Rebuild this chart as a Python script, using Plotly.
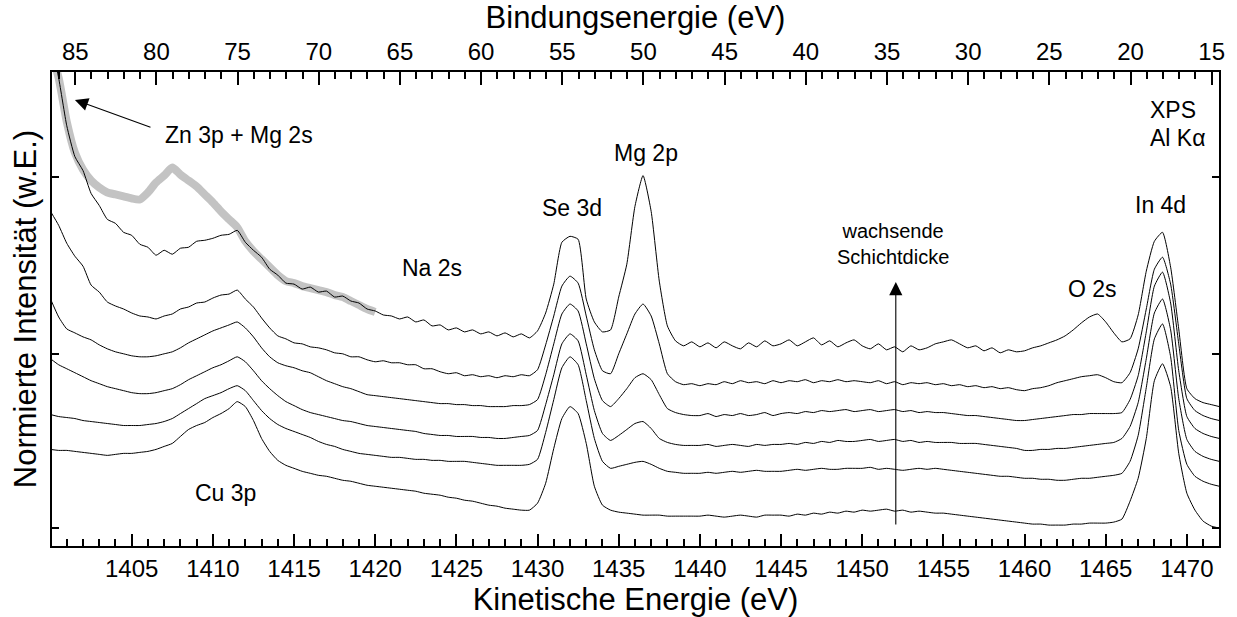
import plotly.graph_objects as go

# Kinetic energy grid (eV)
ke = [1400.0, 1400.5, 1401.0, 1401.5, 1402.0, 1402.5, 1403.0, 1403.5, 1404.0, 1404.5,
      1405.0, 1405.5, 1406.0, 1406.5, 1407.0, 1407.5, 1408.0, 1408.5, 1409.0, 1409.5,
      1410.0, 1410.5, 1411.0, 1411.5, 1412.0, 1412.5, 1413.0, 1413.5, 1414.0, 1414.5,
      1415.0, 1415.5, 1416.0, 1416.5, 1417.0, 1417.5, 1418.0, 1418.5, 1419.0, 1419.5,
      1420.0, 1420.5, 1421.0, 1421.5, 1422.0, 1422.5, 1423.0, 1423.5, 1424.0, 1424.5,
      1425.0, 1425.5, 1426.0, 1426.5, 1427.0, 1427.5, 1428.0, 1428.5, 1429.0, 1429.5,
      1430.0, 1430.5, 1431.0, 1431.5, 1432.0, 1432.5, 1433.0, 1433.5, 1434.0, 1434.5,
      1435.0, 1435.5, 1436.0, 1436.5, 1437.0, 1437.5, 1438.0, 1438.5, 1439.0, 1439.5,
      1440.0, 1440.5, 1441.0, 1441.5, 1442.0, 1442.5, 1443.0, 1443.5, 1444.0, 1444.5,
      1445.0, 1445.5, 1446.0, 1446.5, 1447.0, 1447.5, 1448.0, 1448.5, 1449.0, 1449.5,
      1450.0, 1450.5, 1451.0, 1451.5, 1452.0, 1452.5, 1453.0, 1453.5, 1454.0, 1454.5,
      1455.0, 1455.5, 1456.0, 1456.5, 1457.0, 1457.5, 1458.0, 1458.5, 1459.0, 1459.5,
      1460.0, 1460.5, 1461.0, 1461.5, 1462.0, 1462.5, 1463.0, 1463.5, 1464.0, 1464.5,
      1465.0, 1465.5, 1466.0, 1466.5, 1467.0, 1467.5, 1468.0, 1468.5, 1469.0, 1469.5,
      1470.0, 1470.5, 1471.0, 1471.5, 1472.0]

# Normalised intensities (arbitrary units, curves already offset)
spec_a = [508, 470, 422, 391, 377, 354, 342, 328, 324, 315,
          312, 303, 300, 292, 297, 293, 299, 300, 306, 307,
          309, 312, 313, 317, 305, 297, 290, 278, 272, 264,
          263, 258, 260, 255, 256, 250, 251, 246, 244, 238,
          236, 232, 231, 228, 230, 225, 227, 221, 222, 217,
          219, 215, 217, 213, 215, 211, 214, 210, 213, 209,
          216, 234, 263, 305, 311, 308, 248, 225, 215, 217,
          250, 283, 341, 372, 336, 266, 221, 206, 201, 205,
          200, 204, 199, 205, 201, 198, 204, 200, 206, 201,
          203, 207, 201, 205, 209, 202, 206, 200, 204, 207,
          201, 198, 203, 197, 200, 195, 201, 197, 199, 203,
          205, 207, 203, 199, 201, 196, 199, 194, 197, 195,
          196, 199, 201, 204, 207, 211, 217, 224, 230, 233,
          225, 214, 205, 208, 232, 276, 306, 315, 280, 218,
          158, 148, 144, 142, 140]

spec_b = [336, 322, 304, 291, 281, 262, 255, 245, 241, 238,
          234, 231, 230, 228, 231, 233, 238, 240, 244, 245,
          249, 252, 253, 257, 248, 240, 229, 219, 211, 208,
          204, 203, 200, 199, 197, 194, 193, 190, 190, 187,
          185, 186, 184, 184, 182, 182, 178, 178, 175, 173,
          174, 171, 172, 170, 171, 169, 171, 170, 172, 171,
          177, 202, 231, 261, 271, 264, 231, 197, 176, 173,
          193, 213, 233, 243, 231, 203, 173, 165, 162, 163,
          161, 163, 162, 165, 163, 166, 164, 165, 163, 166,
          164, 166, 165, 167, 164, 166, 165, 167, 165, 166,
          165, 164, 166, 163, 165, 162, 164, 163, 164, 162,
          163, 161, 162, 160, 161, 159, 160, 158, 159, 157,
          156, 158, 159, 161, 164, 166, 168, 170, 171, 172,
          169, 165, 164, 174, 198, 238, 278, 290, 263, 203,
          148, 136, 131, 128, 126]

spec_c = [248, 230, 218, 214, 210, 207, 202, 198, 195, 193,
          191, 190, 190, 191, 193, 195, 199, 204, 208, 212,
          216, 219, 222, 225, 219, 210, 199, 190, 184, 181,
          179, 176, 174, 170, 166, 163, 160, 158, 155, 152,
          151, 150, 149, 148, 147, 146, 145, 144, 143, 143,
          142, 142, 141, 141, 140, 140, 140, 141, 141, 142,
          147, 172, 203, 233, 243, 236, 203, 168, 146, 140,
          148, 158, 169, 173, 167, 152, 138, 134, 132, 131,
          131, 133, 130, 132, 131, 133, 131, 132, 134, 131,
          133, 134, 133, 135, 134, 136, 135, 136, 137, 135,
          136, 137, 135, 136, 137, 135, 136, 134, 135, 134,
          134, 133, 132, 131, 131, 130, 129, 128, 127, 126,
          126, 127, 128, 129, 130, 131, 132, 132, 133, 133,
          133, 133, 134, 147, 171, 215, 261, 275, 244, 176,
          130, 118, 113, 110, 108]

spec_d = [188, 182, 178, 174, 170, 166, 163, 160, 158, 156,
          154, 153, 153, 154, 156, 158, 162, 167, 171, 175,
          179, 182, 186, 190, 185, 176, 166, 158, 151, 145,
          141, 137, 134, 132, 130, 128, 126, 125, 123, 121,
          120, 119, 118, 117, 116, 115, 113, 112, 111, 111,
          110, 110, 110, 109, 109, 108, 108, 109, 110, 111,
          116, 142, 172, 203, 213, 206, 172, 136, 113, 106,
          111, 117, 123, 125, 118, 108, 104, 102, 101, 101,
          101, 102, 100, 101, 102, 101, 100, 102, 101, 102,
          102, 103, 102, 104, 103, 105, 104, 106, 105, 105,
          106, 107, 105, 106, 107, 105, 106, 104, 105, 104,
          104, 104, 103, 103, 103, 102, 101, 100, 99, 98,
          96, 96, 97, 97, 98, 98, 99, 100, 101, 102,
          103, 104, 108, 120, 144, 188, 234, 248, 217, 148,
          107, 95, 90, 87, 85]

spec_e = [132, 130, 129, 128, 126, 125, 124, 123, 122, 121,
          121, 121, 122, 123, 125, 128, 133, 138, 143, 148,
          151, 154, 158, 161, 156, 146, 136, 128, 122, 118,
          115, 112, 109, 105, 102, 100, 97, 95, 93, 92,
          91, 90, 89, 89, 88, 87, 87, 86, 86, 85,
          85, 85, 84, 83, 82, 81, 81, 81, 81, 82,
          87, 114, 147, 179, 190, 182, 146, 108, 85, 78,
          80, 82, 84, 85, 82, 78, 75, 74, 73, 73,
          73, 74, 73, 74, 75, 74, 75, 76, 75, 75,
          75, 76, 77, 76, 77, 78, 77, 77, 78, 78,
          78, 79, 77, 78, 77, 76, 77, 78, 77, 78,
          77, 76, 75, 74, 73, 72, 71, 70, 70, 69,
          68, 68, 67, 67, 66, 66, 67, 68, 68, 69,
          70, 71, 73, 85, 111, 159, 208, 223, 190, 116,
          82, 70, 65, 62, 60]

spec_f = [97, 96, 96, 95, 94, 93, 92, 91, 92, 93,
          93, 94, 95, 97, 100, 103, 110, 117, 121, 124,
          129, 133, 138, 145, 140, 126, 108, 95, 86, 81,
          78, 75, 73, 71, 70, 68, 66, 65, 63, 61,
          60, 59, 58, 57, 56, 55, 53, 52, 51, 49,
          48, 46, 45, 43, 41, 40, 38, 37, 36, 36,
          43, 63, 98, 128, 140, 133, 103, 60, 41, 36,
          34, 33, 32, 31, 31, 31, 30, 30, 30, 30,
          30, 31, 30, 29, 30, 31, 30, 29, 31, 31,
          31, 30, 32, 31, 33, 32, 34, 33, 35, 34,
          36, 35, 36, 37, 35, 36, 34, 35, 34, 33,
          33, 32, 31, 30, 29, 28, 27, 26, 25, 24,
          23, 22, 22, 21, 21, 21, 22, 22, 23, 23,
          23, 24, 27, 45, 68, 108, 166, 183, 160, 93,
          53, 36, 25, 20, 18]

# Thick grey reference spectrum (first 41 grid points, 1400-1420 eV)
spec_ref = [498, 470, 426, 395, 378, 367, 360, 355, 353, 351,
            349, 348, 355, 365, 372, 380, 373, 367, 361, 353,
            345, 336, 328, 320, 306, 296, 288, 280, 272, 266,
            264, 261, 259, 257, 255, 252, 250, 246, 242, 238,
            235]

be_ticks = [85, 80, 75, 70, 65, 60, 55, 50, 45, 40, 35, 30, 25, 20, 15]
ke_ticks = [1405, 1410, 1415, 1420, 1425, 1430, 1435, 1440, 1445,
            1450, 1455, 1460, 1465, 1470]

FONT = "Liberation Sans, Arial, Helvetica, sans-serif"

fig = go.Figure()
fig.add_trace(go.Scatter(x=ke[:len(spec_ref)], y=spec_ref, mode="lines",
                         line=dict(color="#c3c3c3", width=8, shape="spline", smoothing=0.6),
                         hoverinfo="skip"))
for s in [spec_f, spec_e, spec_d, spec_c, spec_b, spec_a]:
    fig.add_trace(go.Scatter(x=ke, y=s, mode="lines",
                             line=dict(color="black", width=1, shape="spline", smoothing=0.5),
                             hoverinfo="skip"))
# dummy trace for the binding energy axis
fig.add_trace(go.Scatter(x=[], y=[], xaxis="x2", yaxis="y", hoverinfo="skip"))

ann_font = dict(family=FONT, size=23, color="black")
labels = [
    ("Zn 3p + Mg 2s", 1411.6, 413, "center"),
    ("Mg 2p", 1436.7, 395, "center"),
    ("Se 3d", 1432.1, 339, "center"),
    ("Na 2s", 1423.5, 279, "center"),
    ("Cu 3p", 1410.8, 53, "center"),
    ("O 2s", 1464.2, 258, "center"),
    ("In 4d", 1468.4, 342, "center"),
    ("XPS", 1467.6, 438, "left"),
    ("Al Kα", 1467.6, 410, "left"),
]
for txt, x, y, anc in labels:
    fig.add_annotation(x=x, y=y, text=txt, showarrow=False, xanchor=anc,
                       yanchor="middle", font=ann_font)
fig.add_annotation(x=1451.9, y=303, text="wachsende<br>Schichtdicke", showarrow=False,
                   xanchor="center", yanchor="middle", align="center",
                   font=dict(family=FONT, size=20, color="black"))
# arrows
fig.add_annotation(x=1401.5, y=448, ax=1406.25, ay=420, axref="x", ayref="y",
                   xref="x", yref="y", text="", showarrow=True, arrowhead=2,
                   arrowsize=2.4, arrowwidth=1.1, arrowcolor="black")
fig.add_annotation(x=1452.07, y=265, ax=1452.07, ay=20, axref="x", ayref="y",
                   xref="x", yref="y", text="", showarrow=True, arrowhead=2,
                   arrowsize=2.4, arrowwidth=1.1, arrowcolor="black")

tickfont = dict(family=FONT, size=24, color="black")
titlefont = dict(family=FONT, size=31, color="black")
fig.update_layout(
    width=1237, height=617,
    margin=dict(l=52, r=14, t=72, b=69),
    paper_bgcolor="white", plot_bgcolor="white",
    showlegend=False,
    xaxis=dict(range=[1400.09, 1471.98], tickvals=ke_ticks, ticks="inside",
               ticklen=12, tickwidth=2, tickcolor="black",
               minor=dict(dtick=1, tick0=1400, ticks="inside", ticklen=7,
                          tickwidth=2, tickcolor="black"),
               showline=True, linewidth=2, linecolor="black", showgrid=False,
               zeroline=False, tickfont=tickfont,
               title=dict(text="Kinetische Energie (eV)", font=titlefont, standoff=2)),
    xaxis2=dict(range=[86.43, 14.55], overlaying="x", side="top", anchor="y",
                tickvals=be_ticks, ticks="inside", ticklen=13, tickwidth=2,
                tickcolor="black",
                minor=dict(dtick=1, tick0=15, ticks="inside", ticklen=7,
                           tickwidth=2, tickcolor="black"),
                showline=True, linewidth=2, linecolor="black", showgrid=False,
                zeroline=False, tickfont=tickfont,
                title=dict(text="Bindungsenergie (eV)", font=titlefont, standoff=2)),
    yaxis=dict(range=[0, 476], showticklabels=False, tickvals=[18, 193, 371],
               ticks="inside", ticklen=7, tickwidth=2, tickcolor="black",
               showline=True, linewidth=2, linecolor="black", mirror="ticks",
               showgrid=False, zeroline=False,
               title=dict(text="Normierte Intensität (w.E.)", font=titlefont, standoff=4)),
)

fig.write_html("out.html")
